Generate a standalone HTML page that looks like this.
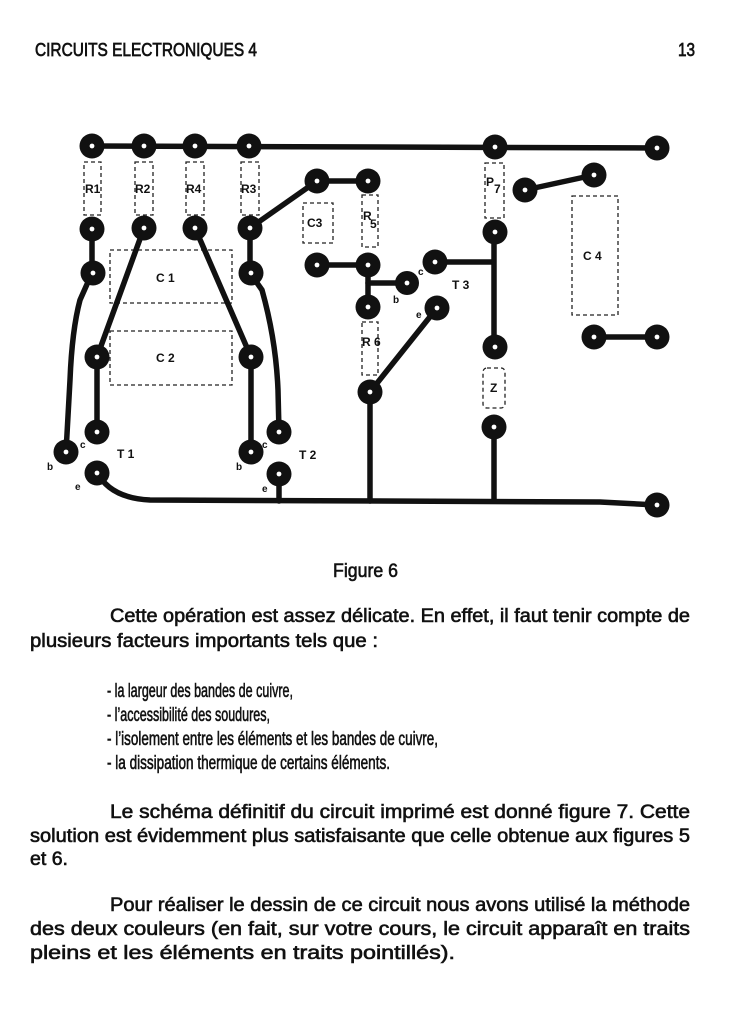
<!DOCTYPE html>
<html><head><meta charset="utf-8"><style>
html,body{margin:0;padding:0;background:#fff;}
svg{display:block;}
text{font-family:"Liberation Sans",sans-serif;fill:#111;}
.t{font-size:19px;stroke:#111;stroke-width:0.6;}
.h{font-size:18px;stroke:#111;stroke-width:0.7;}
</style></head><body>
<svg width="752" height="1024" viewBox="0 0 752 1024" xmlns="http://www.w3.org/2000/svg">
<text class="h" x="35" y="56" textLength="222" lengthAdjust="spacingAndGlyphs">CIRCUITS ELECTRONIQUES 4</text>
<text class="h" x="678" y="56" textLength="17" lengthAdjust="spacingAndGlyphs">13</text>

<g fill="none" stroke="#222" stroke-width="1.3" stroke-dasharray="4,3">
<rect x="84" y="162" width="17" height="53"/>
<rect x="135" y="162" width="18" height="53"/>
<rect x="186" y="162" width="18" height="53"/>
<rect x="241" y="162" width="18" height="53"/>
<rect x="303" y="203" width="30" height="40"/>
<rect x="362" y="195" width="16" height="52"/>
<rect x="110" y="250" width="122" height="53"/>
<rect x="110" y="331" width="122" height="54"/>
<rect x="362" y="322" width="16" height="53"/>
<rect x="485" y="163" width="19" height="55"/>
<rect x="483" y="368" width="22" height="40" rx="4"/>
<rect x="572" y="196" width="46" height="119"/>
</g>
<g font-weight="bold" font-size="12">
<text x="85" y="193">R1</text>
<text x="135" y="193">R2</text>
<text x="186" y="193">R4</text>
<text x="241" y="193">R3</text>
<text x="307" y="227">C3</text>
<text x="363" y="220">R</text><text x="370" y="228">5</text>
<text x="156" y="282">C 1</text>
<text x="156" y="362">C 2</text>
<text x="362" y="346">R 6</text>
<text x="486" y="186">P</text><text x="494" y="193">7</text>
<text x="490" y="392">Z</text>
<text x="583" y="260">C 4</text>
<text x="117" y="458">T 1</text>
<text x="299" y="459">T 2</text>
<text x="452" y="289">T 3</text>
<text x="80" y="448" font-size="10">c</text>
<text x="47" y="470" font-size="10">b</text>
<text x="75" y="490" font-size="10">e</text>
<text x="262" y="448" font-size="10">c</text>
<text x="236" y="470" font-size="10">b</text>
<text x="262" y="492" font-size="10">e</text>
<text x="418" y="275" font-size="10">c</text>
<text x="393" y="303" font-size="10">b</text>
<text x="416" y="318" font-size="10">e</text>
</g>

<g fill="none" stroke="#111" stroke-width="5.5" stroke-linecap="round" stroke-linejoin="round">
<line x1="92" y1="146" x2="657" y2="148"/>
<path d="M92 228 L92 273 L80 300 Q72 330 70 380 L66 452"/>
<path d="M144 228 L97 357 L97 432"/>
<path d="M195 228 L251 357 L251 452"/>
<path d="M250 228 L250 273 L262 290 Q276 340 278 390 L279 432"/>
<path d="M250 228 L317 181 L368 181"/>
<path d="M317 265 L368 265 L368 307"/>
<path d="M368 283 L407 283"/>
<path d="M435 262 L493 262"/>
<path d="M494 232 L494 347"/>
<path d="M370 392 L437 308"/>
<path d="M370 392 L370 501"/>
<path d="M494 427 L494 501"/>
<path d="M279 474 L279 501"/>
<path d="M97 472 Q110 498 150 500 L600 502 L657 505"/>
<path d="M525 190 L594 175"/>
<path d="M594 337 L657 337"/>
</g>

<g fill="#111">
<circle cx="92" cy="146" r="12.5"/><circle cx="144" cy="146" r="12.5"/><circle cx="195" cy="146" r="12.5"/><circle cx="249" cy="146" r="12.5"/>
<circle cx="495" cy="147" r="12.5"/><circle cx="657" cy="148" r="12.5"/>
<circle cx="92" cy="229" r="12.5"/><circle cx="144" cy="228" r="12.5"/><circle cx="195" cy="228" r="12.5"/><circle cx="250" cy="228" r="12.5"/>
<circle cx="93" cy="273" r="12.5"/><circle cx="251" cy="273" r="12.5"/>
<circle cx="97" cy="357" r="12.5"/><circle cx="251" cy="357" r="12.5"/>
<circle cx="97" cy="432" r="12.5"/><circle cx="279" cy="432" r="12.5"/>
<circle cx="66" cy="452" r="12.5"/><circle cx="251" cy="452" r="12.5"/>
<circle cx="97" cy="473" r="12.5"/><circle cx="279" cy="474" r="12.5"/>
<circle cx="317" cy="181" r="12.5"/><circle cx="368" cy="181" r="12.5"/>
<circle cx="317" cy="265" r="12.5"/><circle cx="368" cy="265" r="12.5"/>
<circle cx="368" cy="307" r="12.5"/><circle cx="370" cy="392" r="12.5"/>
<circle cx="407" cy="283" r="12"/><circle cx="435" cy="262" r="12.5"/><circle cx="437" cy="308" r="12.5"/>
<circle cx="495" cy="232" r="12.5"/><circle cx="495" cy="347" r="12.5"/><circle cx="494" cy="427" r="12.5"/>
<circle cx="525" cy="190" r="12.5"/><circle cx="594" cy="175" r="12.5"/>
<circle cx="594" cy="337" r="12.5"/><circle cx="657" cy="337" r="12.5"/>
<circle cx="657" cy="505" r="12.5"/>
</g>
<g fill="#fff">
<circle cx="92" cy="146" r="2.4"/><circle cx="144" cy="146" r="2.4"/><circle cx="195" cy="146" r="2.4"/><circle cx="249" cy="146" r="2.4"/>
<circle cx="495" cy="147" r="2.4"/><circle cx="657" cy="148" r="2.4"/>
<circle cx="92" cy="229" r="2.4"/><circle cx="144" cy="228" r="2.4"/><circle cx="195" cy="228" r="2.4"/><circle cx="250" cy="228" r="2.4"/>
<circle cx="93" cy="273" r="2.4"/><circle cx="251" cy="273" r="2.4"/>
<circle cx="97" cy="357" r="2.4"/><circle cx="251" cy="357" r="2.4"/>
<circle cx="97" cy="432" r="2.4"/><circle cx="279" cy="432" r="2.4"/>
<circle cx="66" cy="452" r="2.4"/><circle cx="251" cy="452" r="2.4"/>
<circle cx="97" cy="473" r="2.4"/><circle cx="279" cy="474" r="2.4"/>
<circle cx="317" cy="181" r="2.4"/><circle cx="368" cy="181" r="2.4"/>
<circle cx="317" cy="265" r="2.4"/><circle cx="368" cy="265" r="2.4"/>
<circle cx="368" cy="307" r="2.4"/><circle cx="370" cy="392" r="2.4"/>
<circle cx="407" cy="283" r="2.4"/><circle cx="435" cy="262" r="2.4"/><circle cx="437" cy="308" r="2.4"/>
<circle cx="495" cy="232" r="2.4"/><circle cx="495" cy="347" r="2.4"/><circle cx="494" cy="427" r="2.4"/>
<circle cx="525" cy="190" r="2.4"/><circle cx="594" cy="175" r="2.4"/>
<circle cx="594" cy="337" r="2.4"/><circle cx="657" cy="337" r="2.4"/>
<circle cx="657" cy="505" r="2.4"/>
</g>

<text class="t" x="333" y="577" textLength="65" lengthAdjust="spacingAndGlyphs">Figure 6</text>

<text class="t" x="110" y="622" textLength="580" lengthAdjust="spacingAndGlyphs">Cette opération est assez délicate. En effet, il faut tenir compte de</text>
<text class="t" x="30" y="647" textLength="348" lengthAdjust="spacingAndGlyphs">plusieurs facteurs importants tels que :</text>

<text class="t" x="107" y="697" textLength="186" lengthAdjust="spacingAndGlyphs">- la largeur des bandes de cuivre,</text>
<text class="t" x="107" y="721" textLength="163" lengthAdjust="spacingAndGlyphs">- l’accessibilité des soudures,</text>
<text class="t" x="107" y="745" textLength="331" lengthAdjust="spacingAndGlyphs">- l’isolement entre les éléments et les bandes de cuivre,</text>
<text class="t" x="107" y="769" textLength="283" lengthAdjust="spacingAndGlyphs">- la dissipation thermique de certains éléments.</text>

<text class="t" x="110" y="818" textLength="580" lengthAdjust="spacingAndGlyphs">Le schéma définitif du circuit imprimé est donné figure 7. Cette</text>
<text class="t" x="30" y="842" textLength="660" lengthAdjust="spacingAndGlyphs">solution est évidemment plus satisfaisante que celle obtenue aux figures 5</text>
<text class="t" x="30" y="865" textLength="38" lengthAdjust="spacingAndGlyphs">et 6.</text>

<text class="t" x="110" y="911" textLength="580" lengthAdjust="spacingAndGlyphs">Pour réaliser le dessin de ce circuit  nous avons utilisé la méthode</text>
<text class="t" x="30" y="935" textLength="660" lengthAdjust="spacingAndGlyphs">des deux couleurs (en fait, sur votre cours, le circuit apparaît en traits</text>
<text class="t" x="30" y="959" textLength="425" lengthAdjust="spacingAndGlyphs">pleins et les éléments en traits pointillés).</text>
</svg>
</body></html>
